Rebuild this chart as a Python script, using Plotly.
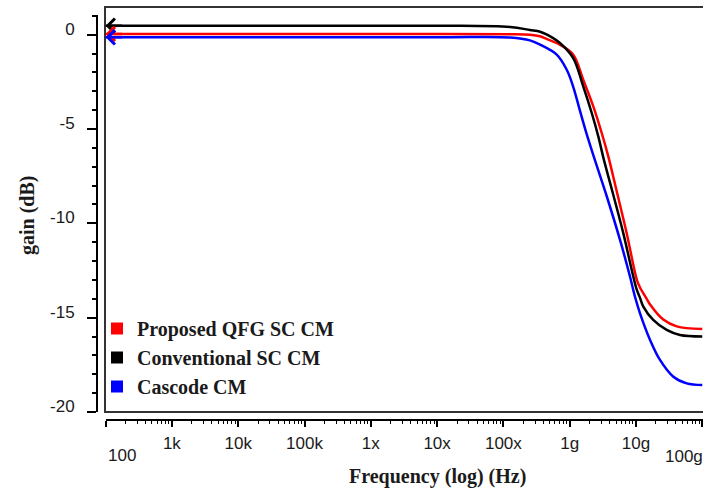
import math
import plotly.graph_objects as go

# ---------------- data ----------------
freq_prop = [1e2, 1e7, 1.26e8, 2.51e8, 3.57e8, 4.55e8, 7.11e8, 1.13e9, 1.60e9, 2.27e9,
             3.04e9, 3.82e9, 5.12e9, 7.24e9, 1.03e10, 1.15e10, 1.45e10, 1.63e10,
             2.58e10, 4.11e10, 1e11]
gain_prop = [0.04, 0.04, 0.03, 0.0, -0.08, -0.23, -0.53, -1.06, -2.39, -3.80,
             -5.21, -6.45, -8.3, -10.52, -12.99, -13.4, -14.0, -14.3,
             -15.1, -15.46, -15.6]

freq_conv = [1e2, 1e7, 1.26e8, 2.51e8, 3.57e8, 4.55e8, 7.11e8, 1.13e9, 1.60e9, 2.15e9,
             2.70e9, 3.21e9, 4.55e9, 6.43e9, 9.10e9, 1.03e10, 1.15e10, 1.29e10,
             1.82e10, 2.90e10, 4.61e10, 1e11]
gain_conv = [0.48, 0.48, 0.41, 0.25, 0.16, 0.0, -0.44, -1.24, -2.74, -4.15,
             -5.39, -6.5, -8.5, -10.52, -12.82, -13.53, -13.95, -14.41,
             -15.12, -15.65, -15.92, -16.0]

freq_casc = [1e2, 1e7, 1.26e8, 2.51e8, 3.57e8, 6.37e8, 9.02e8, 1.13e9, 1.43e9, 1.80e9,
             2.27e9, 3.61e9, 5.74e9, 8.13e9, 9.66e9, 1.15e10, 1.63e10, 2.30e10,
             3.66e10, 5.82e10, 1e11]
gain_casc = [-0.14, -0.14, -0.15, -0.30, -0.53, -1.06, -1.86, -2.76, -4.04, -5.26,
             -6.38, -8.55, -10.88, -12.83, -13.89, -14.77, -16.18, -17.24,
             -18.13, -18.48, -18.57]

series_names = ["Proposed QFG SC CM", "Conventional SC CM", "Cascode CM"]
series_colors = ["#ff0000", "#000000", "#0000ff"]

x_tick_vals = [1e2, 1e3, 1e4, 1e5, 1e6, 1e7, 1e8, 1e9, 1e10, 1e11]
x_tick_text = ["100", "1k", "10k", "100k", "1x", "10x", "100x", "1g", "10g", "100g"]
y_tick_vals = [0, -5, -10, -15, -20]
y_tick_text = ["0", "-5", "-10", "-15", "-20"]

x_title = "Frequency (log) (Hz)"
y_title = "gain (dB)"

# ---------------- layout geometry ----------------
W, H = 703, 492
def px_x(p):
    return p / W
def px_y(p):
    return 1 - p / H

sans = "Liberation Sans, Arial, sans-serif"
serif = "Liberation Serif, Times New Roman, serif"
ink = "#1a1a1a"

fig = go.Figure()

data = [(freq_prop, gain_prop), (freq_conv, gain_conv), (freq_casc, gain_casc)]
for i in [0, 1, 2]:
    f, g = data[i]
    fig.add_trace(go.Scatter(
        x=f, y=g, mode="lines", name=series_names[i],
        line=dict(color=series_colors[i], width=2.5, shape="spline", smoothing=1.0),
        showlegend=False, hoverinfo="x+y+name",
    ))

# legend entries (colored swatches)
for i in range(3):
    fig.add_trace(go.Scatter(
        x=[None], y=[None], mode="markers", name=series_names[i],
        marker=dict(symbol="square", size=12, color=series_colors[i]),
        showlegend=True,
    ))

# left-end arrow markers, one per curve, at each curve's first point
annotations = []
for i in [1, 0, 2]:
    f, g = data[i]
    annotations.append(dict(
        x=math.log10(f[0]), y=g[0], xref="x", yref="y", text="",
        showarrow=True, arrowhead=4, arrowsize=1.1, arrowwidth=2.5,
        arrowcolor=series_colors[i], ax=18, ay=0, axref="pixel", ayref="pixel",
    ))

# first / last x tick labels sit lower and inside the frame
annotations.append(dict(
    x=math.log10(x_tick_vals[0]), y=px_y(455), xref="x", yref="paper",
    text=x_tick_text[0], showarrow=False, xanchor="left", yanchor="middle",
    font=dict(family=sans, size=17, color=ink),
))
annotations.append(dict(
    x=math.log10(x_tick_vals[-1]), y=px_y(456), xref="x", yref="paper",
    text=x_tick_text[-1], showarrow=False, xanchor="right", yanchor="middle", xshift=3,
    font=dict(family=sans, size=17, color=ink),
))
# axis titles
annotations.append(dict(
    x=px_x(437), y=px_y(476), xref="paper", yref="paper", text=x_title,
    showarrow=False, xanchor="center", yanchor="middle",
    font=dict(family=serif, size=20, color=ink, weight="bold"),
))
annotations.append(dict(
    x=px_x(28), y=px_y(216), xref="paper", yref="paper", text=y_title,
    showarrow=False, xanchor="center", yanchor="middle", textangle=-90,
    font=dict(family=serif, size=20, color=ink, weight="bold"),
))

x_minor = [k * 10 ** d for d in range(2, 11) for k in range(2, 10)]
y_minor = [v for v in range(1, -21, -1) if v % 5 != 0]

lo_decade = math.log10(x_tick_vals[0])
fig.update_layout(
    template="none",
    width=W, height=H, autosize=False,
    margin=dict(l=0, r=0, t=0, b=0, pad=0, autoexpand=False),
    paper_bgcolor="white", plot_bgcolor="white",
    showlegend=True,
    legend=dict(
        x=px_x(97), y=px_y(309), xanchor="left", yanchor="top",
        bgcolor="rgba(0,0,0,0)", borderwidth=0,
        font=dict(family=serif, size=20, color=ink, weight="bold"),
        itemsizing="trace", traceorder="normal",
    ),
    xaxis=dict(
        type="log", range=[lo_decade, lo_decade + (W - 105.6) / 66.3],
        domain=[px_x(105.6), 1.0], anchor="free", position=px_y(419.5),
        automargin=False,
        showline=True, linecolor="#000", linewidth=2, mirror=False,
        ticks="outside", ticklen=6, tickwidth=1.5, tickcolor="#000",
        tickmode="array", tickvals=x_tick_vals,
        ticktext=[""] + x_tick_text[1:-1] + [""],
        tickfont=dict(family=sans, size=17, color=ink),
        ticklabelstandoff=2,
        minor=dict(tickmode="array", tickvals=x_minor, ticks="outside",
                   ticklen=3, tickwidth=1, tickcolor="#000", showgrid=False),
        showgrid=False, zeroline=False,
    ),
    yaxis=dict(
        range=[-20, -20 + (412 - 15) / 18.865],
        domain=[px_y(412), px_y(15)], anchor="free", position=px_x(97), side="left",
        automargin=False,
        showline=True, linecolor="#000", linewidth=2,
        ticks="outside", ticklen=9, tickwidth=1.5, tickcolor="#000",
        tickmode="array", tickvals=y_tick_vals, ticktext=y_tick_text,
        tickfont=dict(family=sans, size=17, color=ink),
        ticklabelstandoff=9, ticklabelshift=-6,
        minor=dict(tickmode="array", tickvals=y_minor, ticks="outside",
                   ticklen=4, tickwidth=1.5, tickcolor="#000", showgrid=False),
        showgrid=False, zeroline=False,
    ),
    shapes=[dict(
        type="rect", xref="paper", yref="paper",
        x0=px_x(105), x1=1.02, y0=px_y(412), y1=px_y(7),
        line=dict(color="#333", width=2), fillcolor="rgba(0,0,0,0)", layer="below",
    )],
    annotations=annotations,
)

fig.write_html("out.html")
